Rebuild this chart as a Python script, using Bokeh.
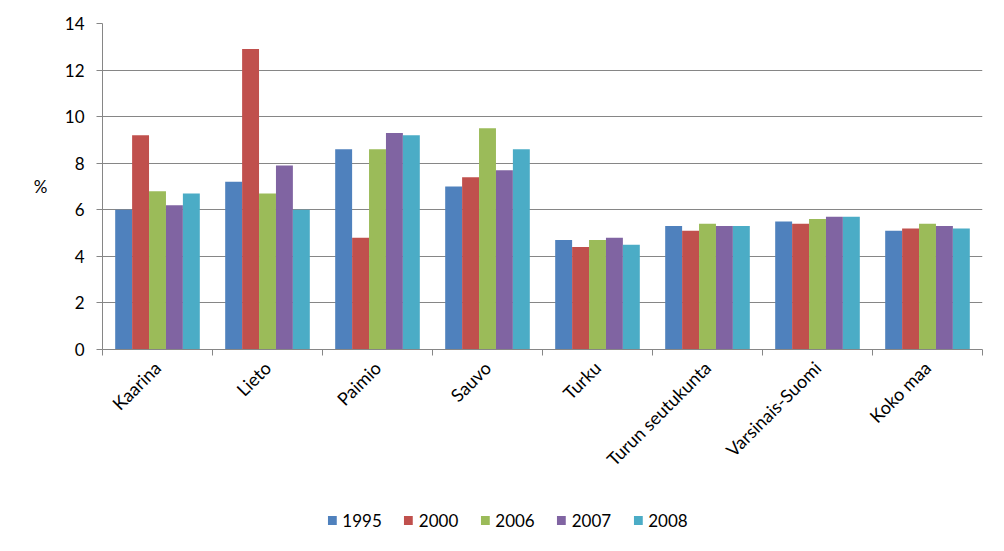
import math
from bokeh.plotting import figure
from bokeh.layouts import column
from bokeh.models import (ColumnDataSource, Range1d, LinearAxis, FixedTicker,
                          Legend, LegendItem)
from bokeh.transform import dodge
from bokeh.embed import file_html
from bokeh.resources import INLINE

categories = ["Kaarina", "Lieto", "Paimio", "Sauvo", "Turku",
              "Turun seutukunta", "Varsinais-Suomi", "Koko maa"]
years = ["1995", "2000", "2006", "2007", "2008"]
v1995 = [6.0, 7.2, 8.6, 7.0, 4.7, 5.3, 5.5, 5.1]
v2000 = [9.2, 12.9, 4.8, 7.4, 4.4, 5.1, 5.4, 5.2]
v2006 = [6.8, 6.7, 8.6, 9.5, 4.7, 5.4, 5.6, 5.4]
v2007 = [6.2, 7.9, 9.3, 7.7, 4.8, 5.3, 5.7, 5.3]
v2008 = [6.7, 6.0, 9.2, 8.6, 4.5, 5.3, 5.7, 5.2]
colors = ["#4F81BD", "#C0504D", "#9BBB59", "#8064A2", "#4BACC6"]
y_ticks = [0, 2, 4, 6, 8, 10, 12, 14]
y_label = "%"

FONT = "Lato"
GRAY = "#868686"

n = len(categories)
centers = [i + 0.5 for i in range(n)]
source = ColumnDataSource(dict(cat=categories, xc=centers, y1995=v1995, y2000=v2000,
                               y2006=v2006, y2007=v2007, y2008=v2008))

p = figure(x_range=Range1d(0, n), y_range=Range1d(0, 14),
           width=1000, height=500, output_backend="svg", toolbar_location=None,
           x_axis_location=None, min_border_left=102, min_border_right=18,
           min_border_top=23, min_border_bottom=151)
p.outline_line_color = None
p.xgrid.grid_line_color = None
p.ygrid.grid_line_color = GRAY
p.ygrid.grid_line_width = 1

# y axis
p.yaxis.ticker = FixedTicker(ticks=y_ticks)
p.yaxis.axis_line_color = GRAY
p.yaxis.major_tick_line_color = GRAY
p.yaxis.major_tick_out = 6
p.yaxis.major_tick_in = 0
p.yaxis.minor_tick_line_color = None
p.yaxis.major_label_text_font = FONT
p.yaxis.major_label_text_font_size = "17px"
p.yaxis.major_label_text_color = "#000000"
p.yaxis.major_label_standoff = 12

# horizontal "%" label as a second, line-less axis at mid-height
mid = (y_ticks[0] + y_ticks[-1]) / 2
lab_axis = LinearAxis(ticker=FixedTicker(ticks=[mid]), major_label_overrides={mid: y_label})
lab_axis.axis_line_color = None
lab_axis.major_tick_line_color = None
lab_axis.minor_tick_line_color = None
lab_axis.major_tick_out = 0
lab_axis.major_label_standoff = 14
lab_axis.major_label_text_font = FONT
lab_axis.major_label_text_font_size = "17px"
lab_axis.major_label_text_color = "#000000"
p.add_layout(lab_axis, "left")

# x axis: category boundaries as minor ticks, labels at centers
xaxis = LinearAxis(ticker=FixedTicker(ticks=centers, minor_ticks=list(range(n + 1))),
                   major_label_overrides={c: name for c, name in zip(centers, categories)})
xaxis.axis_line_color = GRAY
xaxis.major_tick_line_color = None
xaxis.major_tick_out = 0
xaxis.major_tick_in = 0
xaxis.minor_tick_line_color = GRAY
xaxis.minor_tick_out = 6
xaxis.minor_tick_in = 0
xaxis.major_label_orientation = math.pi / 4
xaxis.major_label_text_font = FONT
xaxis.major_label_text_font_size = "18px"
xaxis.major_label_text_color = "#000000"
xaxis.major_label_standoff = 9
p.add_layout(xaxis, "below")

# bars
bw = 1 / 6.5
for i, (yr, col) in enumerate(zip(years, colors)):
    p.vbar(x=dodge("xc", (i - 2) * bw), top="y" + yr,
           width=bw, bottom=0, source=source, fill_color=col, line_color=None)

# legend in its own strip below the chart (proxy glyphs sit outside the visible range)
pl = figure(width=930, height=40, x_range=Range1d(0, 1), y_range=Range1d(0, 1),
            output_backend="svg", toolbar_location=None,
            x_axis_location=None, y_axis_location=None,
            min_border_left=0, min_border_right=0, min_border_top=0, min_border_bottom=0)
pl.outline_line_color = None
pl.xgrid.grid_line_color = None
pl.ygrid.grid_line_color = None
items = []
for yr, col in zip(years, colors):
    r = pl.vbar(x=[-5], top=[-5], bottom=[-6], width=0.1, fill_color=col, line_color=None)
    items.append(LegendItem(label=yr, renderers=[r]))
legend = Legend(items=items, orientation="horizontal", location="center")
legend.label_text_font = FONT
legend.label_text_font_size = "17px"
legend.label_text_color = "#000000"
legend.glyph_width = 11
legend.glyph_height = 11
legend.label_standoff = 5
legend.spacing = 21
legend.padding = 0
legend.margin = 0
legend.border_line_color = None
legend.background_fill_alpha = 0
pl.add_layout(legend, "center")

layout = column(p, pl, spacing=0)
open("out.html", "w").write(file_html(layout, INLINE))
